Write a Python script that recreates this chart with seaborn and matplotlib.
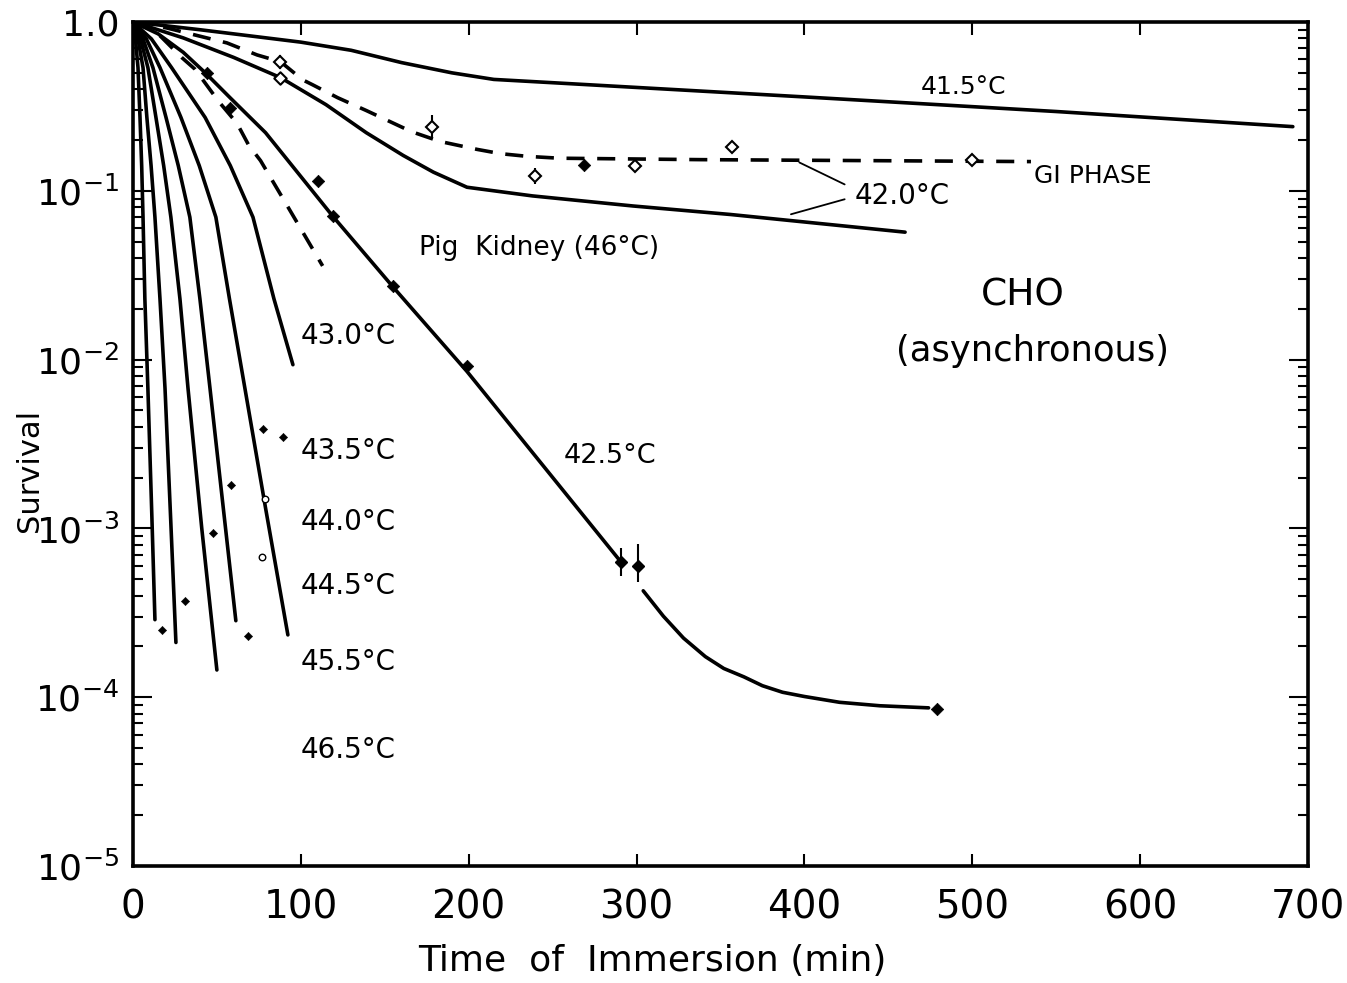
import numpy as np
import pandas as pd
import matplotlib
matplotlib.use("Agg")
import matplotlib.pyplot as plt
import seaborn as sns

# ---------------- data ----------------
# time of immersion (min) and survival fraction
t_415 = [0, 40, 100, 130, 160, 190, 215, 250, 400, 550, 691]
s_415 = [1.0, 0.90, 0.76, 0.68, 0.575, 0.50, 0.457, 0.437, 0.36, 0.295, 0.24]

t_g1 = [0, 20, 56, 74, 88, 101, 107, 122, 139, 166, 183, 205, 219, 235, 254, 338, 535]
s_g1 = [1.0, 0.923, 0.752, 0.638, 0.581, 0.455, 0.425, 0.356, 0.299, 0.224,
        0.196, 0.176, 0.166, 0.160, 0.156, 0.153, 0.149]

t_pig = [0, 10, 30, 60, 88, 115, 139, 161, 179, 199, 238, 298, 356, 460]
s_pig = [1.0, 0.933, 0.805, 0.617, 0.468, 0.324, 0.221, 0.162, 0.129, 0.105,
         0.0933, 0.0813, 0.0724, 0.0569]

t_dash2 = [0, 13, 29, 37, 51, 62, 69, 76, 92, 113]
s_dash2 = [1.0, 0.891, 0.617, 0.525, 0.339, 0.251, 0.186, 0.151, 0.0813, 0.0359]

t_425a = [0, 15, 30, 43, 58, 79, 119, 155, 199, 290]
s_425a = [1.0, 0.851, 0.661, 0.501, 0.355, 0.221, 0.0708, 0.0269, 0.00851, 6.46e-4]
t_425b = [304, 316, 328, 341, 352, 364, 375, 387, 400, 421, 445, 474]
s_425b = [4.27e-4, 3.02e-4, 2.24e-4, 1.74e-4, 1.48e-4, 1.32e-4, 1.17e-4,
          1.07e-4, 1.01e-4, 9.33e-5, 8.9e-5, 8.65e-5]

t_430 = [0, 11, 23, 43, 58, 71.5, 84, 95.3]
s_430 = [1.0, 0.794, 0.537, 0.272, 0.141, 0.0698, 0.0229, 9.33e-3]
t_435 = [0, 8, 16.1, 28.6, 39.5, 49.4, 57.5, 66.7, 79.0, 92.3]
s_435 = [1.0, 0.794, 0.537, 0.272, 0.141, 0.0698, 0.0229, 6.76e-3, 1.32e-3, 2.34e-4]
t_440 = [0, 6, 11.9, 19.7, 27, 33.9, 39.9, 45.9, 53.5, 61.3]
s_440 = [1.0, 0.794, 0.537, 0.272, 0.141, 0.0698, 0.0229, 6.76e-3, 1.41e-3, 2.84e-4]
t_445 = [0, 4.5, 8.9, 13.7, 18.3, 22.6, 28.0, 32.8, 41.0, 50.0]
s_445 = [1.0, 0.794, 0.537, 0.272, 0.141, 0.0698, 0.0229, 6.76e-3, 1.0e-3, 1.45e-4]
t_455 = [0, 3, 6.0, 8.3, 10.8, 13.1, 16.1, 19.1, 22.5, 25.6]
s_455 = [1.0, 0.794, 0.537, 0.272, 0.141, 0.0698, 0.0229, 6.76e-3, 1.12e-3, 2.11e-4]
t_465 = [0, 1.5, 3.0, 4.2, 5.2, 6.0, 7.1, 8.9, 11.3, 13.1]
s_465 = [1.0, 0.794, 0.537, 0.272, 0.141, 0.0698, 0.0229, 6.76e-3, 1.15e-3, 2.88e-4]

# measured points (42.5 C, filled)
pt_425_t = [44, 58, 110, 119, 155, 199, 478.9]
pt_425_s = [0.50, 0.311, 0.114, 0.0708, 0.0273, 0.00912, 8.5e-5]
# 42.5 C points with error bars
eb_425_t = [290.9, 300.8]
eb_425_s = [6.3e-4, 6.0e-4]
eb_425_lo = [5.25e-4, 4.8e-4]
eb_425_hi = [7.7e-4, 8.1e-4]
# G1 phase points (open)
pt_g1_t = [87.6, 178, 239.4, 299, 357, 500]
pt_g1_s = [0.581, 0.240, 0.122, 0.141, 0.183, 0.153]
pt_g1_lo = [0.53, 0.207, 0.110, 0.130, 0.172, 0.146]
pt_g1_hi = [0.64, 0.280, 0.136, 0.152, 0.195, 0.160]
pt_g1f_t = [269]
pt_g1f_s = [0.143]
# pig kidney point (open)
pt_pig_t = [87.6]
pt_pig_s = [0.468]
# scattered points near the steep curves
pt_hot_t = [77.4, 89.3, 58.4, 47.6, 31.0, 17.3, 68.5]
pt_hot_s = [3.9e-3, 3.5e-3, 1.8e-3, 9.4e-4, 3.7e-4, 2.5e-4, 2.3e-4]
pt_hot_open_t = [78.6, 76.8]
pt_hot_open_s = [1.5e-3, 6.8e-4]

yticks = [1e-5, 1e-4, 1e-3, 1e-2, 1e-1, 1.0]
ytick_labels = [r"$10^{-5}$", r"$10^{-4}$", r"$10^{-3}$", r"$10^{-2}$", r"$10^{-1}$", "1.0"]
xticks = [0, 100, 200, 300, 400, 500, 600, 700]

# ---------------- plotting ----------------
sns.set_theme(style="ticks")
plt.rcParams['font.family'] = ['DejaVu Sans']
plt.rcParams['mathtext.fontset'] = 'dejavusans'
plt.rcParams['text.color'] = 'black'
plt.rcParams['axes.labelcolor'] = 'black'
plt.rcParams['xtick.color'] = 'black'
plt.rcParams['ytick.color'] = 'black'

fig = plt.figure(figsize=(13.47, 9.83), dpi=100)
ax = fig.add_axes([0.0987, 0.119, 0.8723, 0.8586])

LW = 2.6
solid = [(t_415, s_415), (t_pig, s_pig), (t_425a, s_425a), (t_425b, s_425b),
         (t_430, s_430), (t_435, s_435), (t_440, s_440), (t_445, s_445),
         (t_455, s_455), (t_465, s_465)]
for tt, ss in solid:
    sns.lineplot(x=tt, y=ss, ax=ax, color='black', lw=LW, sort=False,
                 estimator=None)

for tt, ss in [(t_g1, s_g1), (t_dash2, s_dash2)]:
    sns.lineplot(x=tt, y=ss, ax=ax, color='black', lw=LW, sort=False,
                 estimator=None, linestyle=(0, (5, 3.5)))

sns.scatterplot(x=pt_425_t, y=pt_425_s, ax=ax, color='black', marker='D',
                s=40, zorder=5, edgecolor='black')
ax.errorbar(eb_425_t, eb_425_s,
            yerr=[np.array(eb_425_s) - np.array(eb_425_lo),
                  np.array(eb_425_hi) - np.array(eb_425_s)],
            fmt='D', color='black', ms=6, elinewidth=1.5, capsize=0, zorder=5)
ax.errorbar(pt_g1_t, pt_g1_s,
            yerr=[np.array(pt_g1_s) - np.array(pt_g1_lo),
                  np.array(pt_g1_hi) - np.array(pt_g1_s)],
            fmt='D', mfc='white', mec='black', mew=1.5, color='black', ms=6,
            elinewidth=1.5, capsize=0, zorder=5)
sns.scatterplot(x=pt_g1f_t, y=pt_g1f_s, ax=ax, color='black', marker='D',
                s=40, zorder=5, edgecolor='black')
sns.scatterplot(x=pt_pig_t, y=pt_pig_s, ax=ax, color='white', marker='D',
                s=40, zorder=5, edgecolor='black', linewidth=1.5)
sns.scatterplot(x=pt_hot_t, y=pt_hot_s, ax=ax, color='black', marker='D',
                s=18, zorder=5, edgecolor='black')
sns.scatterplot(x=pt_hot_open_t, y=pt_hot_open_s, ax=ax, color='white', marker='o',
                s=22, zorder=5, edgecolor='black', linewidth=1.0)

# bracket for 42.0 C label
ax.plot([424, 397], [10 ** -0.962, 10 ** -0.832], color='black', lw=1.3)
ax.plot([424, 392], [10 ** -1.05, 10 ** -1.139], color='black', lw=1.3)

ax.set_yscale('log')
ax.set_xlim(0, 700)
ax.set_ylim(1e-5, 1.0)
ax.set_xticks(xticks)
ax.set_xticklabels([str(x) for x in xticks])
ax.set_yticks(yticks)
ax.set_yticklabels(ytick_labels)
ax.yaxis.set_minor_locator(matplotlib.ticker.LogLocator(base=10, subs=range(2, 10), numticks=20))
ax.yaxis.set_minor_formatter(matplotlib.ticker.NullFormatter())

ax.tick_params(axis='both', which='both', direction='in', top=True, right=True,
               colors='black', width=1.5)
ax.tick_params(axis='y', which='major', length=14, labelsize=26, pad=10)
ax.tick_params(axis='y', which='minor', length=7)
ax.tick_params(axis='x', which='major', length=9, labelsize=28, pad=16)
for sp in ax.spines.values():
    sp.set_linewidth(2.6)
    sp.set_color('black')

ax.set_xlabel("Time  of  Immersion (min)", fontsize=26, color='black')
ax.xaxis.set_label_coords(0.442, -0.092)
ax.set_ylabel("Survival", fontsize=22, color='black')
ax.yaxis.set_label_coords(-0.076, 0.469)

lab = dict(color='black', ha='center', va='center')
ax.text(495, 10 ** -0.383, "41.5°C", fontsize=18, **lab)
ax.text(572, 10 ** -0.91, "GI PHASE", fontsize=18, **lab)
ax.text(458, 10 ** -1.03, "42.0°C", fontsize=20, **lab)
ax.text(242, 10 ** -1.34, "Pig  Kidney (46°C)", fontsize=19, **lab)
ax.text(530, 10 ** -1.62, "CHO", fontsize=27, **lab)
ax.text(536, 10 ** -1.95, "(asynchronous)", fontsize=25.5, **lab)
ax.text(284, 10 ** -2.57, "42.5°C", fontsize=19.5, **lab)
for lbl, ly in [("43.0°C", -1.86), ("43.5°C", -2.54), ("44.0°C", -2.96),
                ("44.5°C", -3.34), ("45.5°C", -3.79), ("46.5°C", -4.31)]:
    ax.text(128, 10 ** ly, lbl, fontsize=20, **lab)

fig.savefig("out.png", dpi=100, facecolor='white')
